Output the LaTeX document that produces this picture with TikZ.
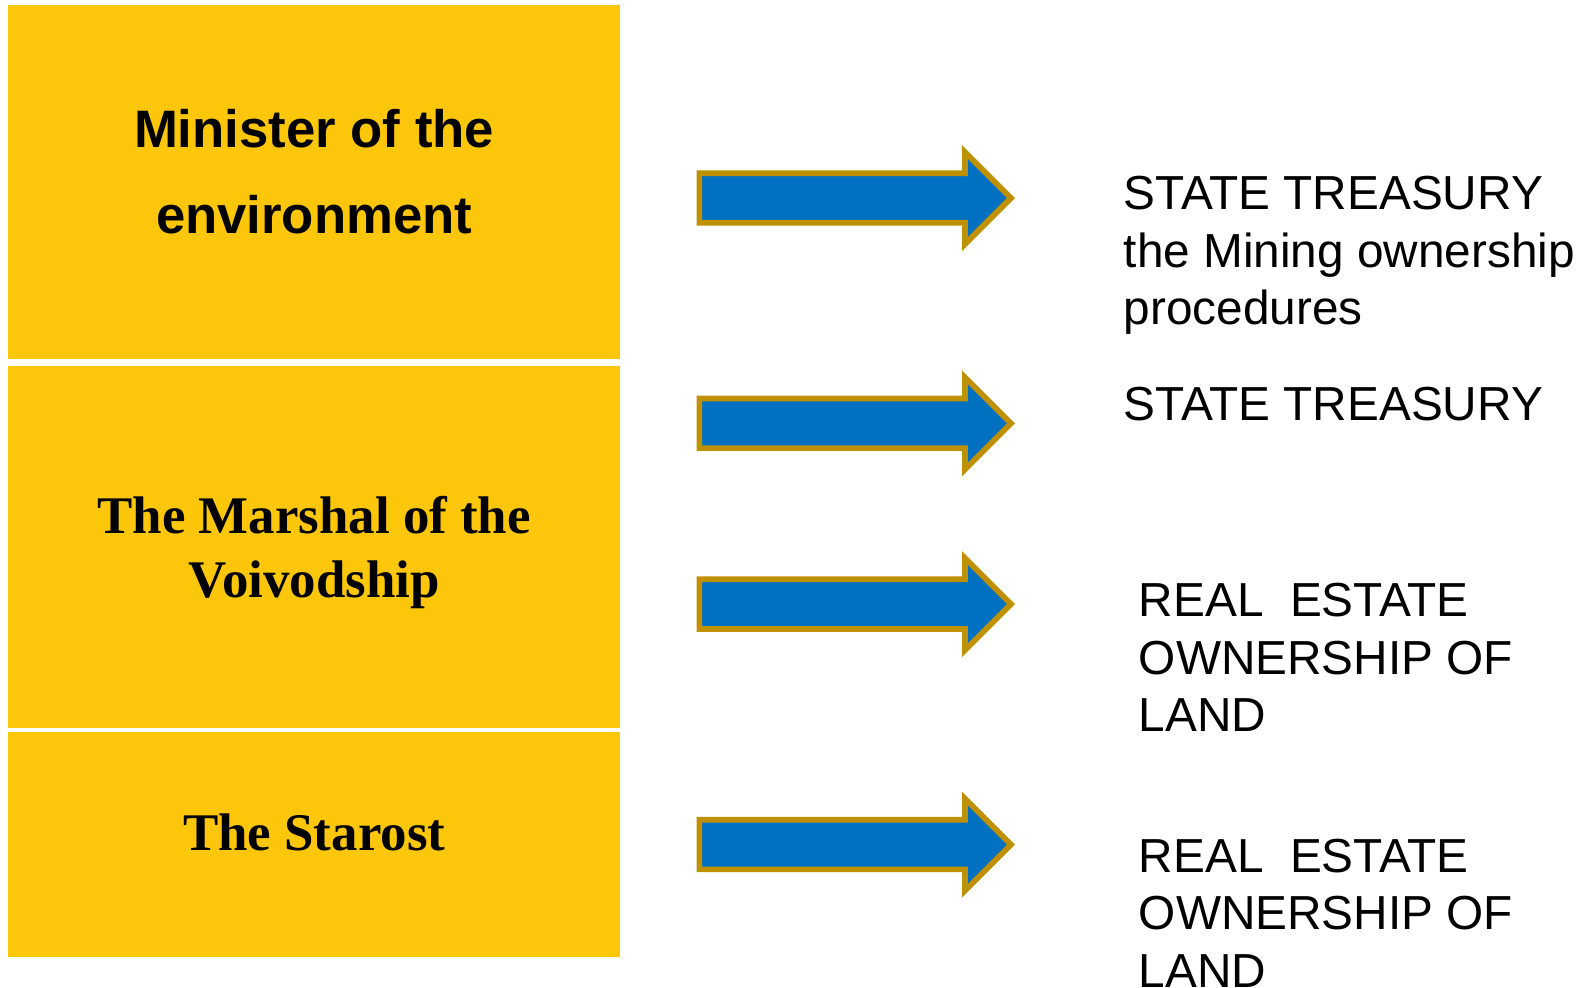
\documentclass[tikz,border=0pt]{standalone}
\usepackage{fontspec}
\setmainfont{Liberation Serif}
\setsansfont{Liberation Sans}
\usetikzlibrary{positioning,shapes.arrows}
\definecolor{boxgold}{RGB}{252,198,11}
\definecolor{arrowblue}{RGB}{0,112,192}
\definecolor{arrowrim}{RGB}{191,144,0}
\begin{document}
\begin{tikzpicture}[x=0.02cm,y=-0.02cm,
		office/.style={fill=boxgold,minimum width=12.12cm,inner sep=0pt},
		title/.style={align=center,inner sep=0pt,font=\bfseries\fontsize{29.8}{36}\selectfont},
		bigarrow/.style={single arrow,fill=arrowblue,draw=arrowrim,line width=3.2pt,
			text height=0.87cm,text depth=0pt,minimum height=6.17cm,single arrow head extend=0.42cm,
			single arrow tip angle=90,inner sep=0pt,anchor=tail},
		result/.style={anchor=north west,align=left,inner sep=0pt,
			font=\sffamily\fontsize{26.9}{32.5}\selectfont}]
		\useasboundingbox (0,0) rectangle (1567,978);
		\node[office,minimum height=7cm] (minister) at (311,180) {};
		\node[office,minimum height=7.16cm] (marshal) [below=0.14cm of minister] {};
		\node[office,minimum height=4.46cm] (starost) [below=0.06cm of marshal] {};

		\node[title,font=\sffamily\bfseries\fontsize{29.7}{48}\selectfont] (ministertext) at ([yshift=0.2cm]minister.center) {Minister of the\\environment};
		\node[title] (marshaltext) at ([yshift=-0.1cm]marshal.center) {The Marshal of the\\Voivodship};
		\node[title] (starosttext) at ([yshift=0.24cm]starost.center) {The Starost};

		% arrows
		\node[bigarrow] (a1) at (689.5,196) {};
		\node[bigarrow] (a2) at (689.5,419) {};
		\node[bigarrow] (a3) at (689.5,598) {};
		\node[bigarrow] (a4) at (689.5,836) {};

		\node[result] (treasury1) at (1112,174) {STATE TREASURY\\the Mining ownership\\procedures};
		\node[result] (treasury2) at (1112,383) {STATE TREASURY};
		\node[result] (estate1) at (1127,577) {REAL~~ESTATE\\OWNERSHIP OF\\LAND};
		\node[result] (estate2) at (1127,830) {REAL~~ESTATE\\OWNERSHIP OF\\LAND};
	\end{tikzpicture}
\end{document}
